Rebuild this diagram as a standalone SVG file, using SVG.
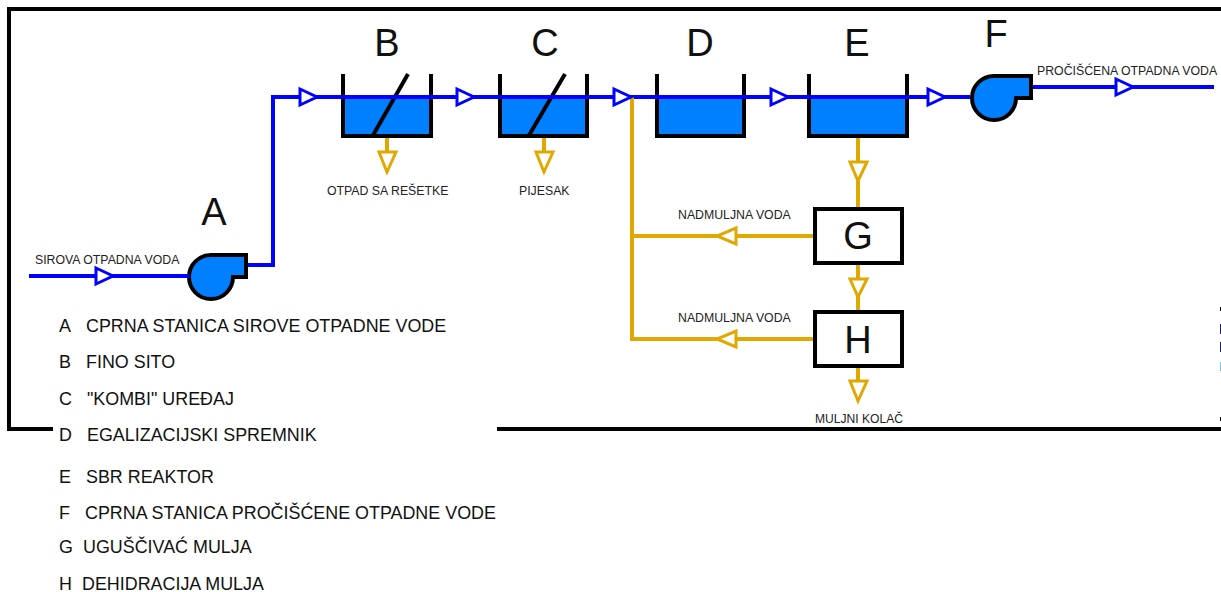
<svg xmlns="http://www.w3.org/2000/svg" width="1221" height="592" viewBox="0 0 1221 592">
<style>
text{font-family:"Liberation Sans",Arial,sans-serif;fill:#111}
.big{font-size:38px;text-anchor:middle}
.sm{font-size:12.3px;fill:#222}
.lg{font-size:17.9px}
.wall{fill:none;stroke:#000;stroke-width:4}
.water{fill:#0080ff;stroke:none}
.blue{fill:none;stroke:#0000ff;stroke-width:4}
.or{fill:none;stroke:#e0a800;stroke-width:4}
.ab{fill:#fff;stroke:#0000ff;stroke-width:3}
.ao{fill:#fff;stroke:#e0a800;stroke-width:3}
.box{fill:#fff;stroke:#000;stroke-width:4}
.pump{fill:#0080ff;stroke:#000;stroke-width:4;stroke-linejoin:miter}
</style>
<rect width="1221" height="592" fill="#fff"/>
<path id="frame" d="M1221 9H9V429H53M497 429H1221" fill="none" stroke="#000" stroke-width="4"/>
<g id="stray"><rect x="1220" y="307" width="1" height="4" fill="#000"/><rect x="1220" y="324" width="1" height="10" fill="#1a1a70"/><rect x="1220" y="342" width="1" height="10" fill="#1a1a70"/><rect x="1220" y="362" width="1" height="9" fill="#70c8e8"/><rect x="1220" y="417" width="1" height="4" fill="#000"/></g>
<g id="node-A"><path class="pump" d="M211 255H246V277H233A22 22 0 1 1 211 255Z"/><text class="big" x="214" y="225">A</text></g>
<g id="node-B"><rect class="water" x="343" y="97" width="88" height="40"/><path class="wall" d="M343 74V136H431V74"/><path d="M408 74L372 137" fill="none" stroke="#000" stroke-width="4"/><text class="big" x="387" y="56">B</text></g>
<g id="node-C"><rect class="water" x="500" y="97" width="87" height="40"/><path class="wall" d="M500 74V136H587V74"/><path d="M565 74L528 137" fill="none" stroke="#000" stroke-width="4"/><text class="big" x="545" y="56">C</text></g>
<g id="node-D"><rect class="water" x="657" y="97" width="87" height="40"/><path class="wall" d="M657 74V136H744V74"/><text class="big" x="700" y="56">D</text></g>
<g id="node-E"><rect class="water" x="809" y="97" width="98" height="40"/><path class="wall" d="M809 74V136H907V74"/><text class="big" x="857" y="56">E</text></g>
<g id="node-F"><path class="pump" d="M994 76H1031V98H1016A22 22 0 1 1 994 76Z"/><text class="big" x="996" y="47">F</text></g>
<g id="node-G"><rect class="box" x="815" y="209" width="87" height="54"/><text class="big" x="858" y="249">G</text></g>
<g id="node-H"><rect class="box" x="815" y="312" width="87" height="54"/><text class="big" x="858" y="353">H</text></g>
<g id="connectors">
<path class="blue" d="M29 276H189"/>
<path class="blue" d="M248 265H273V97H970"/>
<path class="blue" d="M1033 87H1214"/>
<path class="or" d="M632 97V339H813M632 236H813"/>
<path class="or" d="M387 138V172M544 138V172M858 138V207M858 265V310M858 368V400"/>
<path class="ab" d="M96 268L113 276L96 284Z"/>
<path class="ab" d="M300 89L317 97L300 105Z"/>
<path class="ab" d="M457 89L474 97L457 105Z"/>
<path class="ab" d="M614 89L631 97L614 105Z"/>
<path class="ab" d="M771 89L788 97L771 105Z"/>
<path class="ab" d="M928 89L945 97L928 105Z"/>
<path class="ab" d="M1116 79L1133 87L1116 95Z"/>
<path class="ao" d="M379 152H396L387 172Z"/>
<path class="ao" d="M536 152H553L544 172Z"/>
<path class="ao" d="M850 162H867L858 181Z"/>
<path class="ao" d="M850 279H867L858 297Z"/>
<path class="ao" d="M850 381H867L858 401Z"/>
<path class="ao" d="M736 228V244L717 236Z"/>
<path class="ao" d="M736 331V347L717 339Z"/>
</g>
<g id="labels">
<text class="sm" x="35" y="264">SIROVA OTPADNA VODA</text>
<text class="sm" x="327" y="195">OTPAD SA REŠETKE</text>
<text class="sm" x="519" y="195">PIJESAK</text>
<text class="sm" x="678" y="219">NADMULJNA VODA</text>
<text class="sm" x="678" y="322">NADMULJNA VODA</text>
<text class="sm" x="815" y="423" style="font-size:12.1px">MULJNI KOLAČ</text>
<text class="sm" x="1037" y="75">PROČIŠĆENA OTPADNA VODA</text>
</g>
<g id="legend">
<text class="lg" x="59" y="332">A</text><text class="lg" x="86" y="332">CPRNA STANICA SIROVE OTPADNE VODE</text>
<text class="lg" x="59" y="368">B</text><text class="lg" x="86" y="368">FINO SITO</text>
<text class="lg" x="59" y="405">C</text><text class="lg" x="87" y="405">"KOMBI" UREĐAJ</text>
<text class="lg" x="59" y="441">D</text><text class="lg" x="87" y="441">EGALIZACIJSKI SPREMNIK</text>
<text class="lg" x="59" y="483">E</text><text class="lg" x="86" y="483">SBR REAKTOR</text>
<text class="lg" x="59" y="519">F</text><text class="lg" x="85" y="519">CPRNA STANICA PROČIŠĆENE OTPADNE VODE</text>
<text class="lg" x="59" y="553">G</text><text class="lg" x="83" y="553">UGUŠČIVAĆ MULJA</text>
<text class="lg" x="59" y="590">H</text><text class="lg" x="82" y="590">DEHIDRACIJA MULJA</text>
</g>
</svg>
